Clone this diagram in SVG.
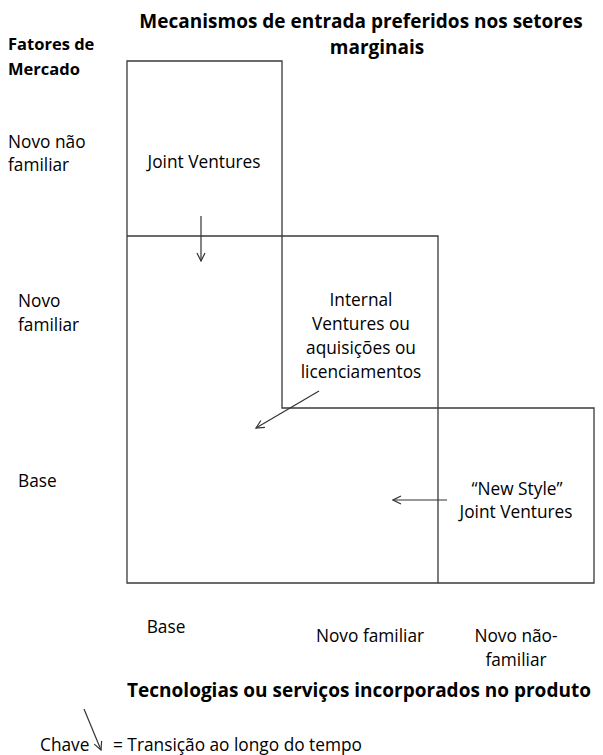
<svg xmlns="http://www.w3.org/2000/svg" width="603" height="755" viewBox="0 0 603 755">
  <defs>
    <style>
      text { font-family: "Open Sans", "Liberation Sans", Arial, sans-serif; fill: #000; }
      .t { font-size: 17.3px; }
      .b { font-size: 19px; font-weight: bold; }
      .h { font-size: 16.5px; font-weight: bold; }
      .c { text-anchor: middle; }
      .grid { fill: none; stroke: #3a3a3a; stroke-width: 1.3; }
      .arr { fill: none; stroke: #333; stroke-width: 1.2; }
    </style>
    <marker id="head" viewBox="0 0 10 10" refX="9" refY="5" markerWidth="10" markerHeight="10" markerUnits="userSpaceOnUse" orient="auto">
      <path d="M1,1 L9,5 L1,9" fill="none" stroke="#333" stroke-width="1.2"/>
    </marker>
  </defs>
  <rect width="603" height="755" fill="#fff"/>

  <!-- headings and axis labels -->
  <g id="title">
    <text class="b c" x="361" y="28">Mecanismos de entrada preferidos nos setores</text>
    <text class="b c" x="377" y="54">marginais</text>
  </g>
  <g id="market-axis">
    <text class="h" x="8" y="50">Fatores de</text>
    <text class="h" x="8" y="75">Mercado</text>
    <text class="t" x="8" y="148">Novo não</text>
    <text class="t" x="8" y="171">familiar</text>
    <text class="t" x="18" y="307">Novo</text>
    <text class="t" x="18" y="331">familiar</text>
    <text class="t" x="18" y="487">Base</text>
  </g>
  <g id="tech-axis">
    <text class="t c" x="166" y="633">Base</text>
    <text class="t c" x="370" y="642">Novo familiar</text>
    <text class="t c" x="516" y="642">Novo não-</text>
    <text class="t c" x="516" y="666">familiar</text>
    <text class="b c" x="359" y="697">Tecnologias ou serviços incorporados no produto</text>
  </g>

  <!-- stepped matrix -->
  <g id="matrix">
    <path class="grid" d="M127,583 V61 H282 V408 H594 V583 Z"/>
    <path class="grid" d="M127,236 H438 V583"/>
  </g>

  <g id="joint-ventures">
    <text class="t c" x="204" y="168">Joint Ventures</text>
  </g>
  <g id="internal-ventures">
    <text class="t c" x="361" y="306">Internal</text>
    <text class="t c" x="361" y="330">Ventures ou</text>
    <text class="t c" x="361" y="354">aquisições ou</text>
    <text class="t c" x="361" y="378">licenciamentos</text>
  </g>
  <g id="new-style">
    <text class="t c" x="517" y="495">“New Style”</text>
    <text class="t c" x="516" y="518">Joint Ventures</text>
  </g>

  <!-- transitions over time -->
  <g id="connectors">
    <line class="arr" x1="201" y1="216" x2="201" y2="261" marker-end="url(#head)"/>
    <line class="arr" x1="319" y1="391" x2="256" y2="428" marker-end="url(#head)"/>
    <line class="arr" x1="447" y1="500" x2="393" y2="500" marker-end="url(#head)"/>
    <line class="arr" x1="84" y1="709" x2="101" y2="750" marker-end="url(#head)"/>
  </g>

  <g id="legend">
    <text class="t" x="40" y="751">Chave</text>
    <text class="t" x="113" y="751">= Transição ao longo do tempo</text>
  </g>
</svg>
